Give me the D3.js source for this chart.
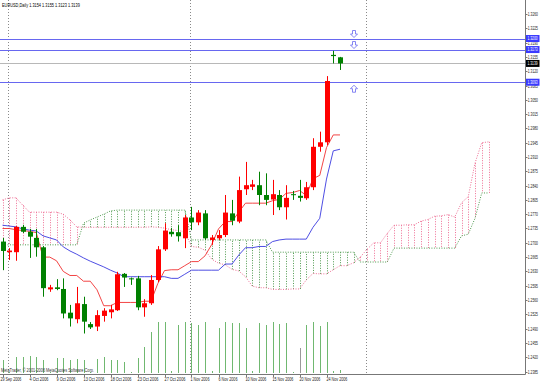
<!DOCTYPE html>
<html>
<head>
<meta charset="utf-8">
<script src="https://cdn.jsdelivr.net/npm/d3@7"></script>
<style>
html, body { margin: 0; padding: 0; background: #fff; }
svg { display: block; font-family: "Liberation Sans", Arial, sans-serif; }
</style>
</head>
<body>
<svg id="chart" width="540" height="383"></svg>
<script>
// 数据 EURUSD Daily (含周日K线)
const openP = [1.2703,1.2677,1.2677,1.2739,1.2727,1.2712,1.2689,1.2586,1.2591,1.2587,1.2529,1.2513,1.2550,1.2501,1.2495,1.2521,1.2530,1.2535,1.2624,1.2613,1.2613,1.2542,1.2552,1.2609,1.2684,1.2727,1.2726,1.2711,1.2762,1.2750,1.2772,1.2707,1.2711,1.2719,1.2772,1.2752,1.2831,1.2837,1.2841,1.2817,1.2806,1.2817,1.2787,1.2819,1.2815,1.2809,1.2836,1.2935,1.2946,1.3160,1.3154];
const highP = [1.2712,1.2687,1.2741,1.2744,1.2734,1.2734,1.2692,1.2597,1.2611,1.2613,1.2548,1.2592,1.2568,1.2506,1.2535,1.2540,1.2548,1.2629,1.2626,1.2615,1.2619,1.2562,1.2621,1.2692,1.2748,1.2736,1.2743,1.2768,1.2788,1.2780,1.2780,1.2719,1.2731,1.2817,1.2805,1.2862,1.2898,1.2854,1.2874,1.2870,1.2854,1.2829,1.2841,1.2827,1.2854,1.2849,1.2956,1.2972,1.3108,1.3170,1.3155];
const lowP = [1.2633,1.2658,1.2656,1.2724,1.2663,1.2666,1.2568,1.2580,1.2584,1.2515,1.2495,1.2503,1.2478,1.2489,1.2484,1.2507,1.2515,1.2533,1.2592,1.2597,1.2535,1.2519,1.2548,1.2604,1.2680,1.2715,1.2703,1.2687,1.2731,1.2743,1.2707,1.2695,1.2707,1.2714,1.2743,1.2748,1.2817,1.2829,1.2792,1.2792,1.2768,1.2780,1.2757,1.2805,1.2801,1.2805,1.2829,1.2923,1.2939,1.3139,1.3123];
const closeP = [1.2680,1.2681,1.2739,1.2727,1.2715,1.2689,1.2589,1.2591,1.2587,1.2527,1.2515,1.2552,1.2507,1.2493,1.2523,1.2534,1.2537,1.2623,1.2615,1.2611,1.2542,1.2552,1.2609,1.2684,1.2730,1.2721,1.2716,1.2762,1.2750,1.2774,1.2711,1.2713,1.2719,1.2774,1.2754,1.2829,1.2841,1.2843,1.2817,1.2805,1.2819,1.2787,1.2810,1.2817,1.2810,1.2836,1.2935,1.2946,1.3096,1.3157,1.3139];
const volumes = [1300,100,1600,1600,1700,1600,1300,100,1500,1500,1300,1400,1300,100,1400,1600,1300,1300,1100,100,1500,2600,4100,5100,5100,200,4800,5100,5000,4800,5100,200,4500,5100,5000,5000,4500,200,5000,4800,5100,4900,5000,100,2500,4800,5100,4700,5100,200,300];

// Ichimoku
const tenkan = [1.2735,1.2735,1.2732,1.2730,1.2728,1.2725,1.2665,1.2665,1.2656,1.2630,1.2620,1.2620,1.2606,1.2606,1.2585,1.2546,1.2546,1.2554,1.2554,1.2554,1.2554,1.2557,1.2557,1.2600,1.2632,1.2634,1.2634,1.2644,1.2654,1.2654,1.2668,1.2696,1.2734,1.2752,1.2752,1.2775,1.2797,1.2797,1.2797,1.2797,1.2803,1.2806,1.2821,1.2823,1.2828,1.2816,1.2857,1.2865,1.2933,1.2964,1.2964];
const kijun = [1.2743,1.2741,1.2739,1.2734,1.2731,1.2729,1.2717,1.2712,1.2707,1.2690,1.2680,1.2672,1.2663,1.2655,1.2648,1.2641,1.2633,1.2626,1.2617,1.2617,1.2617,1.2617,1.2617,1.2617,1.2617,1.2613,1.2613,1.2623,1.2633,1.2633,1.2633,1.2633,1.2633,1.2648,1.2648,1.2670,1.2688,1.2688,1.2691,1.2691,1.2703,1.2707,1.2709,1.2709,1.2709,1.2709,1.2738,1.2760,1.2856,1.2925,1.2929];
const spanA = [1.2805,1.2810,1.2810,1.2792,1.2775,1.2775,1.2775,1.2775,1.2775,1.2770,1.2756,1.2739,1.2738,1.2738,1.2738,1.2738,1.2738,1.2738,1.2738,1.2738,1.2738,1.2738,1.2739,1.2738,1.2736,1.2732,1.2730,1.2727,1.2691,1.2689,1.2682,1.2660,1.2650,1.2646,1.2635,1.2631,1.2617,1.2594,1.2590,1.2590,1.2586,1.2586,1.2586,1.2587,1.2587,1.2609,1.2625,1.2624,1.2624,1.2634,1.2644,1.2644,1.2651,1.2665,1.2684,1.2700,1.2700,1.2723,1.2743,1.2743,1.2744,1.2744,1.2753,1.2757,1.2765,1.2766,1.2769,1.2763,1.2798,1.2813,1.2895,1.2945,1.2947];
const spanB = [1.2695,1.2695,1.2695,1.2695,1.2695,1.2695,1.2695,1.2695,1.2695,1.2695,1.2695,1.2695,1.2748,1.2756,1.2763,1.2770,1.2778,1.2780,1.2780,1.2780,1.2780,1.2780,1.2780,1.2780,1.2780,1.2780,1.2780,1.2780,1.2707,1.2707,1.2707,1.2707,1.2707,1.2707,1.2707,1.2707,1.2707,1.2707,1.2707,1.2707,1.2677,1.2677,1.2677,1.2677,1.2677,1.2677,1.2677,1.2677,1.2677,1.2677,1.2677,1.2677,1.2677,1.2653,1.2653,1.2653,1.2653,1.2653,1.2687,1.2687,1.2687,1.2687,1.2687,1.2687,1.2687,1.2687,1.2687,1.2687,1.2717,1.2721,1.2760,1.2822,1.2822];

// 刻度
const priceTicks = [1.3260,1.3225,1.3190,1.3155,1.3120,1.3085,1.3050,1.3015,1.2980,1.2945,1.2910,1.2875,1.2840,1.2805,1.2770,1.2735,1.2700,1.2665,1.2630,1.2595,1.2560,1.2525,1.2490,1.2455,1.2420,1.2385];
const dateLabels = ["29 Sep 2006","4 Oct 2006","9 Oct 2006","13 Oct 2006","18 Oct 2006","23 Oct 2006","27 Oct 2006","1 Nov 2006","6 Nov 2006","10 Nov 2006","15 Nov 2006","20 Nov 2006","24 Nov 2006"];
const dateIdx = [0,4,8,12,16,20,24,28,32,36,40,44,48];
const separatorIdx = [1, 28, 54];
const alertLevels = [1.3200, 1.3173, 1.3093];
const alertDir = ["down", "down", "up"];
const bidPrice = 1.3139;
const titleText = "EURUSD,Daily  1.3154 1.3155 1.3123 1.3139";

const PLOT_R = 525, PLOT_B = 374;
const UP_COLOR = "#ff0000", DOWN_COLOR = "#008000";
const KUMO_UP = "#ef6f95", KUMO_DN = "#4f9a4f";
const LINE_COLOR = "#6767f0";

let svg = d3.select("#chart");
let x = d3.scaleLinear().domain([0, 76]).range([2.5, 2.5 + 76 * 6.75]);
let y = d3.scaleLinear().domain([1.2385, 1.3260]).range([371.5, 14]);
let yVol = d3.scaleLinear().domain([0, 5100]).range([373, 322]);

svg.append("defs").append("clipPath").attr("id", "plot")
    .append("rect").attr("x", 0).attr("y", 0).attr("width", PLOT_R).attr("height", PLOT_B);

let plot = svg.append("g").attr("clip-path", "url(#plot)");

// 周期分隔线
plot.append("g").selectAll("line").data(separatorIdx).join("line")
    .attr("x1", d => Math.round(x(d)) - 0.5).attr("x2", d => Math.round(x(d)) - 0.5)
    .attr("y1", 0).attr("y2", PLOT_B)
    .attr("stroke", "#8a8a8a").attr("stroke-width", 1).attr("stroke-dasharray", "1,2");

// 成交量
plot.append("g").selectAll("line").data(volumes).join("line")
    .attr("x1", (d, i) => Math.round(x(i)) + 0.5).attr("x2", (d, i) => Math.round(x(i)) + 0.5)
    .attr("y1", yVol(0)).attr("y2", d => yVol(d))
    .attr("stroke", (d, i) => i === 44 ? "#9a9a9a" : "#70b870")
    .attr("stroke-width", 1);

// 云 (竖线填充)
let kumo = spanA.map((a, j) => ({ j, a, b: spanB[j] }));
plot.append("g").selectAll("line").data(kumo).join("line")
    .attr("x1", d => Math.round(x(d.j)) + 0.5).attr("x2", d => Math.round(x(d.j)) + 0.5)
    .attr("y1", d => y(d.a)).attr("y2", d => y(d.b))
    .attr("stroke", d => d.a >= d.b ? KUMO_UP : KUMO_DN)
    .attr("stroke-width", 1).attr("stroke-dasharray", "1,1.5");

let lineGen = d3.line().x((d, i) => x(i)).y(d => y(d));
plot.append("path").datum(spanA).attr("d", lineGen)
    .attr("fill", "none").attr("stroke", KUMO_UP).attr("stroke-width", 1).attr("stroke-dasharray", "1,1.5");
plot.append("path").datum(spanB).attr("d", lineGen)
    .attr("fill", "none").attr("stroke", KUMO_DN).attr("stroke-width", 1).attr("stroke-dasharray", "1,1.5");

// 转换线 / 基准线
plot.append("path").datum(tenkan).attr("d", lineGen)
    .attr("fill", "none").attr("stroke", "#f03030").attr("stroke-width", 0.9);
plot.append("path").datum(kijun).attr("d", lineGen)
    .attr("fill", "none").attr("stroke", "#3a3ae0").attr("stroke-width", 0.9);

// 横线 + 提示箭头
plot.append("line").attr("x1", 0).attr("x2", PLOT_R)
    .attr("y1", Math.round(y(bidPrice)) + 0.5).attr("y2", Math.round(y(bidPrice)) + 0.5)
    .attr("stroke", "#b8b8b8").attr("stroke-width", 1);
plot.append("g").selectAll("line").data(alertLevels).join("line")
    .attr("x1", 0).attr("x2", PLOT_R)
    .attr("y1", d => Math.round(y(d)) + 0.5).attr("y2", d => Math.round(y(d)) + 0.5)
    .attr("stroke", LINE_COLOR).attr("stroke-width", 1);

function arrowPath(cx, tip, dir) {
    let s = dir === "down" ? -1 : 1;
    let pts = [[cx, tip], [cx + 3.5, tip + 3.5 * s], [cx + 1.5, tip + 3.5 * s], [cx + 1.5, tip + 7 * s],
        [cx - 1.5, tip + 7 * s], [cx - 1.5, tip + 3.5 * s], [cx - 3.5, tip + 3.5 * s]];
    return "M" + pts.map(p => p.join(",")).join("L") + "Z";
}
plot.append("g").selectAll("path").data(alertLevels).join("path")
    .attr("d", (d, i) => arrowPath(x(52) + 0.5, alertDir[i] === "down" ? y(d) - 1 : y(d) + 3, alertDir[i]))
    .attr("fill", "#fff").attr("stroke", LINE_COLOR).attr("stroke-width", 0.8);

// K线
let candles = openP.map((o, i) => ({ i, o, h: highP[i], l: lowP[i], c: closeP[i] }));
let cg = plot.append("g").selectAll("g").data(candles).join("g");
cg.append("line")
    .attr("x1", d => Math.round(x(d.i)) + 0.5).attr("x2", d => Math.round(x(d.i)) + 0.5)
    .attr("y1", d => y(d.h)).attr("y2", d => y(d.l))
    .attr("stroke", d => d.c > d.o ? UP_COLOR : DOWN_COLOR).attr("stroke-width", 1);
cg.append("rect")
    .attr("x", d => Math.round(x(d.i)) - 2).attr("width", 5)
    .attr("y", d => y(Math.max(d.o, d.c)))
    .attr("height", d => Math.max(1, y(Math.min(d.o, d.c)) - y(Math.max(d.o, d.c))))
    .attr("fill", d => d.c > d.o ? UP_COLOR : DOWN_COLOR);

// 小号文字: 横向压缩到参考图的宽度
function tinyText(g, tx, ty, str, color, cw) {
    let t = g.append("text").attr("x", 0).attr("y", 0)
        .attr("font-size", 4.6).attr("fill", color)
        .text(str);
    let len = t.node().getComputedTextLength() || 1;
    let sx = str.length * (cw || 1.9) / len;
    t.attr("transform", `translate(${tx},${ty}) scale(${sx},1)`);
    return t;
}

// 标题, 版权
tinyText(svg, 2, 7, titleText, "#000");
tinyText(svg, 1, 372, "MetaTrader, \u00a9 2001-2006 MetaQuotes Software Corp.", "#333");

// 边框
svg.append("line").attr("x1", PLOT_R + 0.5).attr("x2", PLOT_R + 0.5).attr("y1", 0).attr("y2", PLOT_B + 0.5)
    .attr("stroke", "#777").attr("stroke-width", 1);
svg.append("line").attr("x1", 0).attr("x2", PLOT_R + 0.5).attr("y1", PLOT_B + 0.5).attr("y2", PLOT_B + 0.5)
    .attr("stroke", "#777").attr("stroke-width", 1);

// 价格轴
let axisG = svg.append("g");
priceTicks.forEach(p => {
    let py = Math.round(y(p)) + 0.5;
    axisG.append("line").attr("x1", PLOT_R).attr("x2", PLOT_R + 2.5).attr("y1", py).attr("y2", py).attr("stroke", "#777");
    tinyText(axisG, PLOT_R + 2.8, py + 1.6, p.toFixed(4), "#222", 1.7);
});

// 价格标签
let tags = svg.append("g");
alertLevels.forEach(p => {
    tags.append("rect").attr("x", PLOT_R + 1).attr("y", y(p) - 3.5).attr("width", 13.5).attr("height", 7).attr("fill", "#3a3aff");
    tinyText(tags, PLOT_R + 2.5, y(p) + 1.6, p.toFixed(4), "#fff", 1.7);
});
tags.append("rect").attr("x", PLOT_R + 1).attr("y", y(bidPrice) - 3.5).attr("width", 13.5).attr("height", 7).attr("fill", "#000");
tinyText(tags, PLOT_R + 2.5, y(bidPrice) + 1.6, bidPrice.toFixed(4), "#fff", 1.7);

// 时间轴
let xa = svg.append("g");
dateIdx.forEach((d, i) => {
    let tx = Math.round(x(d)) + 0.5;
    xa.append("line").attr("x1", tx).attr("x2", tx).attr("y1", PLOT_B).attr("y2", PLOT_B + 3).attr("stroke", "#777");
    tinyText(xa, i === 0 ? 0.5 : tx - 1, 380.5, dateLabels[i], "#222");
});
</script>
</body>
</html>
